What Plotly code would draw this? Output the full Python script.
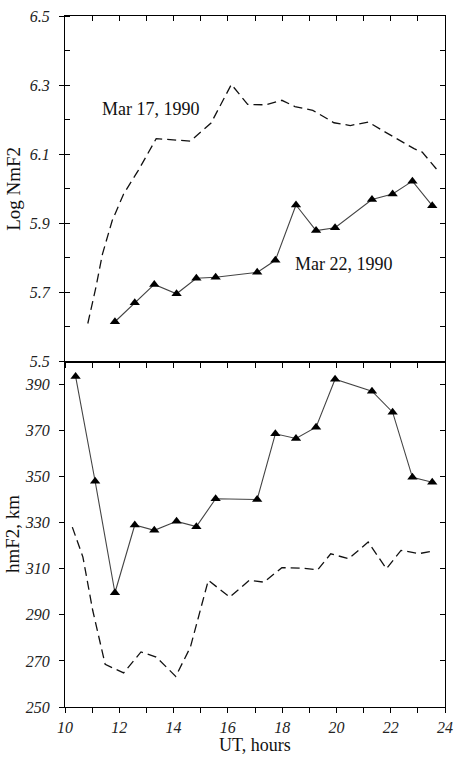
import plotly.graph_objects as go

# --- data ---
ut_nm22 = [11.84, 12.57, 13.29, 14.11, 14.84, 15.55, 17.08, 17.75, 18.51, 19.25, 19.95, 21.31, 22.07, 22.80, 23.53]
lognm_22 = [5.615, 5.670, 5.723, 5.696, 5.741, 5.744, 5.758, 5.793, 5.953, 5.879, 5.887, 5.969, 5.985, 6.022, 5.951]

ut_nm17 = [10.84, 11.14, 11.38, 11.74, 12.16, 12.70, 13.36, 14.62, 15.38, 16.13, 16.73, 17.39, 17.99, 18.47,
           19.13, 19.91, 20.51, 21.17, 21.80, 22.86, 23.16, 23.73]
lognm_17 = [5.610, 5.715, 5.811, 5.908, 5.985, 6.053, 6.145, 6.138, 6.190, 6.302, 6.244, 6.243, 6.256, 6.238,
            6.227, 6.191, 6.183, 6.193, 6.164, 6.116, 6.106, 6.053]

ut_hm22 = [10.39, 11.11, 11.84, 12.57, 13.29, 14.11, 14.84, 15.55, 17.08, 17.75, 18.51, 19.25, 19.95, 21.31,
           22.07, 22.80, 23.53]
hmf2_22 = [393.5, 348.0, 299.6, 329.0, 326.7, 330.6, 328.3, 340.4, 340.1, 368.6, 366.6, 371.5, 392.3, 387.1,
           378.0, 349.7, 347.6]

ut_hm17 = [10.27, 10.66, 11.02, 11.48, 12.16, 12.80, 13.36, 14.08, 14.62, 15.28, 16.07, 16.79, 17.33, 17.99,
           18.71, 19.31, 19.79, 20.45, 21.17, 21.84, 22.38, 23.04, 23.58]
hmf2_17 = [328.1, 315.1, 292.0, 268.5, 264.8, 273.9, 271.7, 263.3, 276.0, 305.0, 297.7, 305.0, 304.2, 310.5,
           310.3, 309.6, 316.5, 314.4, 321.6, 310.0, 318.0, 316.6, 317.7]

x_ticks = [10, 12, 14, 16, 18, 20, 22, 24]
nm_ticks = [5.5, 5.7, 5.9, 6.1, 6.3, 6.5]
hm_ticks = [250, 270, 290, 310, 330, 350, 370, 390]

label_17 = "Mar 17, 1990"
label_22 = "Mar 22, 1990"

FONT = "Liberation Serif, Times New Roman, serif"
TICKFONT = dict(family=FONT, size=16, color="#222", style="italic")

fig = go.Figure()

solid = dict(color="#444", width=1.1)
dashed = dict(color="#111", width=1.3, dash="9px,5px")
marker = dict(symbol="triangle-up", size=9, color="black")

# top panel (x2, y2)
fig.add_trace(go.Scatter(x=ut_nm17, y=lognm_17, mode="lines", line=dashed, xaxis="x2", yaxis="y2", showlegend=False))
fig.add_trace(go.Scatter(x=ut_nm22, y=lognm_22, mode="lines+markers", line=solid, marker=marker,
                         xaxis="x2", yaxis="y2", showlegend=False))
# bottom panel (x, y)
fig.add_trace(go.Scatter(x=ut_hm17, y=hmf2_17, mode="lines", line=dashed, xaxis="x", yaxis="y", showlegend=False))
fig.add_trace(go.Scatter(x=ut_hm22, y=hmf2_22, mode="lines+markers", line=solid, marker=marker,
                         xaxis="x", yaxis="y", showlegend=False))

# helper empty traces to register overlay tick axes
fig.add_trace(go.Scatter(x=[], y=[], xaxis="x3", yaxis="y3", showlegend=False))
fig.add_trace(go.Scatter(x=[], y=[], xaxis="x", yaxis="y4", showlegend=False))

XR = [10, 24]
axcommon = dict(showgrid=False, zeroline=False, linecolor="black", linewidth=1.2, tickcolor="black",
                tickfont=TICKFONT)


def ital(vals, fmt="{}"):
    return ["<i>" + fmt.format(v) + "</i>" for v in vals]


fig.update_layout(
    width=461, height=757,
    margin=dict(l=65, r=8, t=16, b=50),
    plot_bgcolor="white", paper_bgcolor="white",
    xaxis=dict(domain=[0, 1], range=XR, anchor="y", showline=True, mirror=True,
               ticks="outside", ticklen=5, tickvals=x_ticks, ticktext=ital(x_ticks),
               minor=dict(dtick=1, ticks="outside", ticklen=5, tickcolor="black"),
               ticklabelstandoff=1, **axcommon),
    yaxis=dict(domain=[0, 0.5], range=[250, 400], anchor="x", showline=True, mirror=True,
               ticks="outside", ticklen=5, tickvals=hm_ticks, ticktext=ital(hm_ticks),
               ticklabelstandoff=6, **axcommon),
    xaxis2=dict(domain=[0, 1], range=XR, anchor="y2", showline=True, mirror=True,
                ticks="outside", ticklen=5, dtick=1, showticklabels=False, **axcommon),
    yaxis2=dict(domain=[0.5, 1], range=[5.5, 6.5], anchor="x2", showline=True, mirror=True,
                ticks="outside", ticklen=5, tickvals=nm_ticks, ticktext=ital(nm_ticks, "{:.1f}"),
                ticklabelstandoff=6,
                minor=dict(dtick=0.1, tick0=5.5, ticks="inside", ticklen=5, tickcolor="black"),
                **axcommon),
    xaxis3=dict(overlaying="x2", anchor="y2", side="top", range=XR, dtick=1, ticks="inside", ticklen=5,
                showticklabels=False, showline=False, showgrid=False, zeroline=False, tickcolor="black"),
    yaxis3=dict(overlaying="y2", anchor="x2", side="right", range=[5.5, 6.5], tick0=5.5, dtick=0.1,
                ticks="inside", ticklen=5, showticklabels=False, showline=False, showgrid=False,
                zeroline=False, tickcolor="black"),
    yaxis4=dict(overlaying="y", anchor="x", side="right", range=[250, 400], tickvals=hm_ticks,
                ticks="inside", ticklen=5, showticklabels=False, showline=False, showgrid=False,
                zeroline=False, tickcolor="black"),
)

# axis titles and labels as annotations
fig.add_annotation(text="Log NmF2", xref="paper", yref="paper", x=-0.134, y=0.75, textangle=-90,
                   showarrow=False, font=dict(family=FONT, size=19, color="#111"), xanchor="center", yanchor="middle")
fig.add_annotation(text="hmF2, km", xref="paper", yref="paper", x=-0.14, y=0.25, textangle=-90,
                   showarrow=False, font=dict(family=FONT, size=19, color="#111"), xanchor="center", yanchor="middle")
fig.add_annotation(text="UT, hours", xref="paper", yref="paper", x=0.5, y=-0.0728,
                   showarrow=False, font=dict(family=FONT, size=18, color="#111"), xanchor="center", yanchor="bottom")
fig.add_annotation(text=label_17, xref="x2", yref="y2", x=13.17, y=6.232, showarrow=False,
                   font=dict(family=FONT, size=18, color="#111"))
fig.add_annotation(text=label_22, xref="x2", yref="y2", x=20.29, y=5.782, showarrow=False,
                   font=dict(family=FONT, size=18, color="#111"))

fig.write_html("out.html")
